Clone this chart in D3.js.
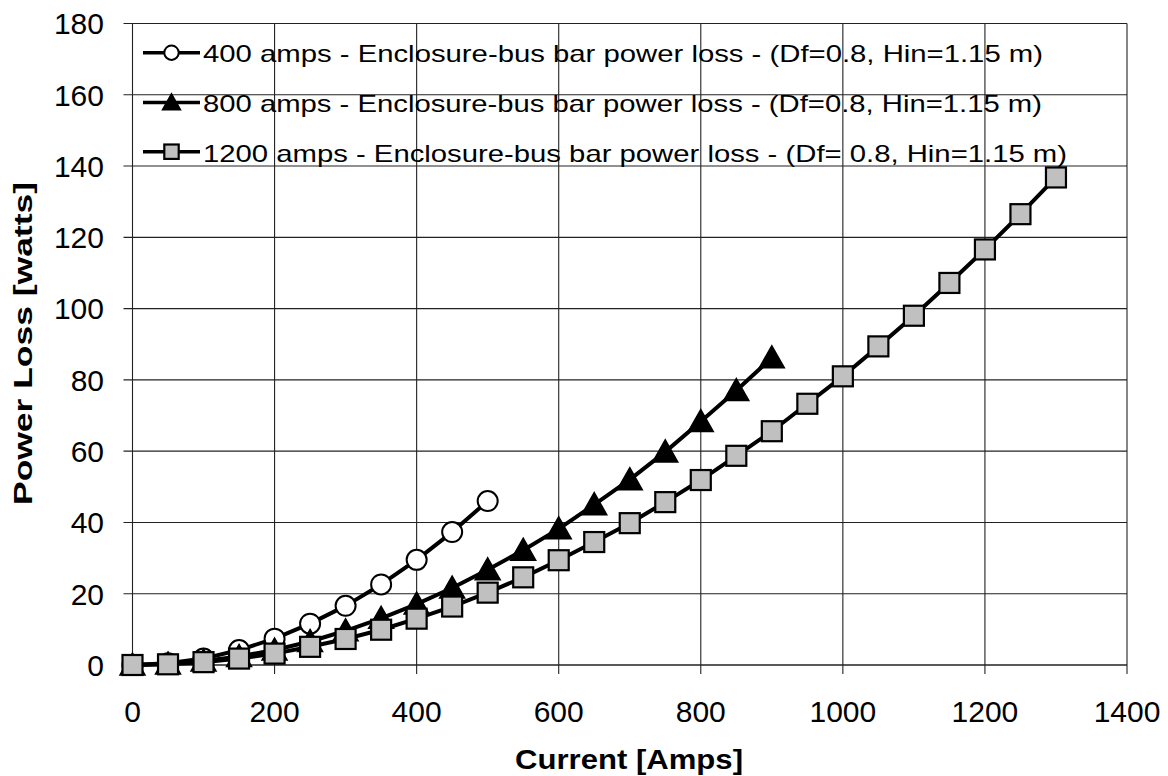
<!DOCTYPE html>
<html>
<head>
<meta charset="utf-8">
<script src="https://cdn.jsdelivr.net/npm/d3@7"></script>
<style>
  html, body { margin: 0; padding: 0; background: #fff; }
  svg { display: block; font-family: "Liberation Sans", Arial, sans-serif; }
</style>
</head>
<body>
<svg id="chart" width="1168" height="776"></svg>
<script>
// ---- data ----
const xTicks = [0, 200, 400, 600, 800, 1000, 1200, 1400];
const yTicks = [0, 20, 40, 60, 80, 100, 120, 140, 160, 180];

const current400 = [0, 50, 100, 150, 200, 250, 300, 350, 400, 450, 500];
const loss400 = [0, 0.5, 1.8, 4.2, 7.4, 11.6, 16.6, 22.6, 29.5, 37.3, 46.0];

const current800 = [0, 50, 100, 150, 200, 250, 300, 350, 400, 450, 500, 550, 600, 650, 700, 750, 800, 850, 900];
const loss800 = [0, 0.3, 1.1, 2.4, 4.2, 6.6, 9.6, 13.1, 17.1, 21.6, 26.7, 32.2, 38.2, 45.0, 52.0, 59.8, 68.3, 77.0, 86.2];

const current1200 = [0, 50, 100, 150, 200, 250, 300, 350, 400, 450, 500, 550, 600, 650, 700, 750, 800, 850, 900, 950, 1000, 1050, 1100, 1150, 1200, 1250, 1300];
const loss1200 = [0, 0.2, 0.8, 1.8, 3.2, 5.1, 7.3, 9.9, 13.0, 16.4, 20.3, 24.6, 29.4, 34.5, 39.8, 45.7, 51.9, 58.7, 65.6, 73.3, 81.0, 89.4, 98.0, 107.2, 116.6, 126.5, 136.8];

const seriesNames = [
  "400 amps - Enclosure-bus bar power loss - (Df=0.8, Hin=1.15 m)",
  "800 amps - Enclosure-bus bar power loss - (Df=0.8, Hin=1.15 m)",
  "1200 amps - Enclosure-bus bar power loss - (Df= 0.8, Hin=1.15 m)"
];
const xTitle = "Current [Amps]";
const yTitle = "Power Loss [watts]";

// ---- layout ----
const svg = d3.select("#chart");
svg.append("rect").attr("width", 1168).attr("height", 776).attr("fill", "#fff");

const x = d3.scaleLinear().domain([0, 1400]).range([132.5, 1127]);
const y = d3.scaleLinear().domain([0, 180]).range([665, 23.5]);

const grid = svg.append("g");
// horizontal gridlines (with tick stubs on the left)
grid.selectAll("line.h").data(yTicks).join("line")
  .attr("x1", x(0) - 9).attr("x2", x(1400))
  .attr("y1", d => y(d)).attr("y2", d => y(d))
  .attr("stroke", "#222").attr("stroke-width", d => d === 0 ? 1.6 : 1.1);
// vertical gridlines (with tick stubs below)
grid.selectAll("line.v").data(xTicks).join("line")
  .attr("x1", d => x(d)).attr("x2", d => x(d))
  .attr("y1", y(180)).attr("y2", y(0) + 9)
  .attr("stroke", "#222").attr("stroke-width", 1.1);

// tick labels
svg.append("g").selectAll("text").data(yTicks).join("text")
  .attr("x", 104).attr("y", d => y(d) + 10.8)
  .attr("text-anchor", "end").attr("font-size", 30).attr("fill", "#000")
  .text(d => d);
svg.append("g").selectAll("text").data(xTicks).join("text")
  .attr("x", d => x(d)).attr("y", 722)
  .attr("text-anchor", "middle").attr("font-size", 30).attr("fill", "#000")
  .text(d => d);

// axis titles
svg.append("text")
  .attr("x", 629).attr("y", 769)
  .attr("text-anchor", "middle").attr("font-size", 27).attr("font-weight", "bold")
  .attr("textLength", 228).attr("lengthAdjust", "spacingAndGlyphs")
  .text(xTitle);
svg.append("text")
  .attr("transform", "translate(31.5,343.5) rotate(-90)")
  .attr("text-anchor", "middle").attr("font-size", 25.5).attr("font-weight", "bold")
  .attr("textLength", 323).attr("lengthAdjust", "spacingAndGlyphs")
  .text(yTitle);

// ---- series ----
const series = [
  { xs: current400, ys: loss400, marker: "circle" },
  { xs: current800, ys: loss800, marker: "triangle" },
  { xs: current1200, ys: loss1200, marker: "square" }
];

const line = d3.line().x(d => x(d[0])).y(d => y(d[1]));

function drawMarker(g, type, cx, cy, s) {
  if (type === "circle") {
    g.append("circle").attr("cx", cx).attr("cy", cy).attr("r", 10 * s)
      .attr("fill", "#fff").attr("stroke", "#000").attr("stroke-width", 2);
  } else if (type === "triangle") {
    const w = 12.5 * s, hTop = 12 * s, hBot = 10 * s;
    g.append("path")
      .attr("d", `M${cx},${cy - hTop}L${cx + w},${cy + hBot}L${cx - w},${cy + hBot}Z`)
      .attr("fill", "#000").attr("stroke", "#000").attr("stroke-width", 1.5);
  } else {
    const h = 10 * s;
    g.append("rect").attr("x", cx - h).attr("y", cy - h).attr("width", 2 * h).attr("height", 2 * h)
      .attr("fill", "#c0c0c0").attr("stroke", "#000").attr("stroke-width", 2.2);
  }
}

series.forEach(sr => {
  const pts = sr.xs.map((v, i) => [v, sr.ys[i]]);
  const g = svg.append("g");
  g.append("path").attr("d", line(pts)).attr("fill", "none")
    .attr("stroke", "#000").attr("stroke-width", 4).attr("stroke-linejoin", "round");
  pts.forEach(p => drawMarker(g, sr.marker, x(p[0]), y(p[1]), 1));
});

// ---- legend ----
const legendRows = [
  { lineY: 52.7, baseY: 62.3, width: 840 },
  { lineY: 102.5, baseY: 111.7, width: 839 },
  { lineY: 151.7, baseY: 161.5, width: 864 }
];
const lg = svg.append("g");
legendRows.forEach((r, i) => {
  lg.append("line").attr("x1", 143).attr("x2", 200).attr("y1", r.lineY).attr("y2", r.lineY)
    .attr("stroke", "#000").attr("stroke-width", 3.5);
  drawMarker(lg, series[i].marker, 171.5, r.lineY, 0.72);
  lg.append("text").attr("x", 203).attr("y", r.baseY)
    .attr("font-size", 24).attr("fill", "#000")
    .attr("textLength", r.width).attr("lengthAdjust", "spacingAndGlyphs")
    .text(seriesNames[i]);
});
</script>
</body>
</html>
